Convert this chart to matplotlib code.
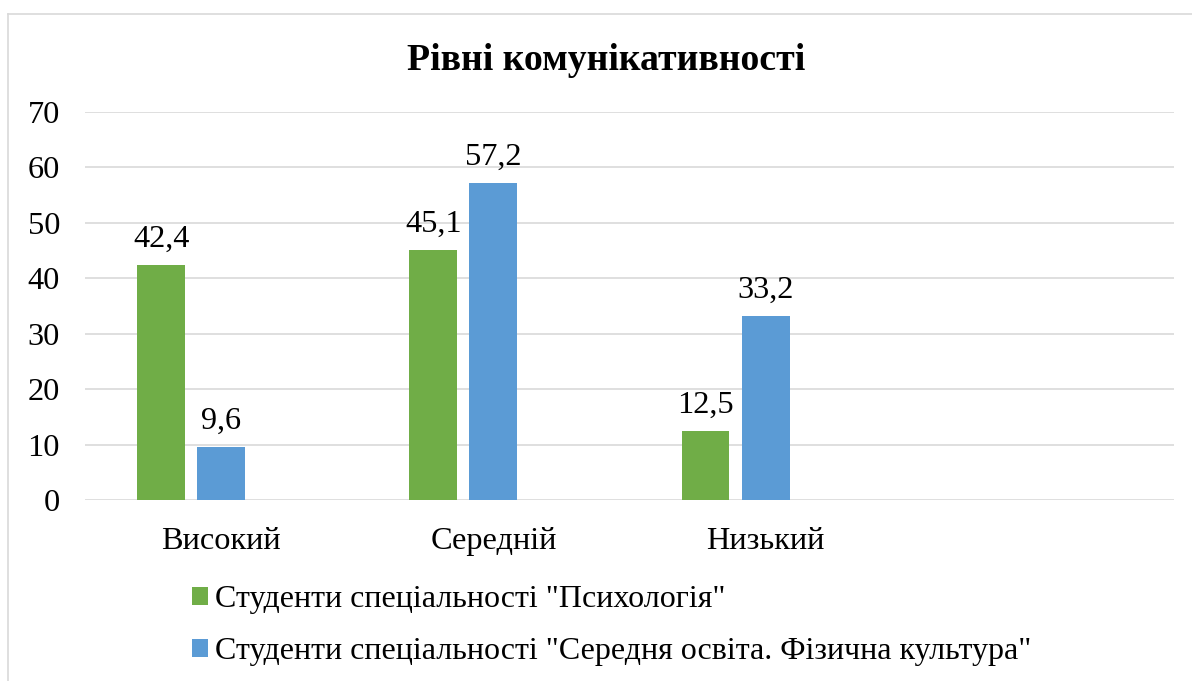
import matplotlib
matplotlib.use("Agg")
import matplotlib.pyplot as plt
from matplotlib.patches import Patch
from matplotlib.lines import Line2D
import numpy as np

plt.rcParams['font.family'] = ['Liberation Serif', 'DejaVu Serif']

title = "Рівні комунікативності"
categories = ["Високий", "Середній", "Низький", ""]
series_names = ['Студенти спеціальності "Психологія"',
                'Студенти спеціальності "Середня освіта. Фізична культура"']
psych = [42.4, 45.1, 12.5]
sport = [9.6, 57.2, 33.2]
colors = ["#70AD47", "#5B9BD5"]
yticks = [0, 10, 20, 30, 40, 50, 60, 70]

W, H = 1192, 681
fig = plt.figure(figsize=(W / 100, H / 100), dpi=100)
fig.patch.set_facecolor("white")

left, right, top, bottom = 85, 1174, 111.7, 500.3
ax = fig.add_axes([left / W, (H - bottom) / H, (right - left) / W, (bottom - top) / H])

x = np.arange(len(psych))
bw = 0.1754
off = 0.2206
fs = 23.3
b1 = ax.bar(x - off, psych, width=bw, color=colors[0], zorder=3)
b2 = ax.bar(x, sport, width=bw, color=colors[1], zorder=3)

for xs, vals in ((x - off, psych), (x, sport)):
    for xi, v in zip(xs, vals):
        ax.annotate(f"{v:.1f}".replace(".", ","), (xi, v), xytext=(0, 13),
                    textcoords="offset points", ha="center", va="baseline",
                    fontsize=fs, color="#000000")

ax.set_xlim(-0.5, len(categories) - 0.5)
ax.set_ylim(0, 70)
ax.set_yticks(yticks)
ax.set_yticklabels([str(t) for t in yticks])
ax.set_xticks(np.arange(len(categories)))
ax.set_xticklabels(categories)
ax.tick_params(axis="both", length=0, labelsize=fs, colors="#000000")
ax.tick_params(axis="y", pad=18)
ax.tick_params(axis="x", pad=19)
ax.grid(axis="y", color="#d9d9d9", linewidth=1.2, zorder=0)
for s in ax.spines.values():
    s.set_visible(False)

fig.text(606 / W, 1 - 70 / H, title, ha="center", va="baseline",
         fontsize=27.2, fontweight="bold", color="#000000")

# chart border (only top and left visible)
fig.add_artist(Line2D([8 / W, 8 / W], [0, 1 - 14 / H], transform=fig.transFigure,
                      color="#d9d9d9", linewidth=1.2))
fig.add_artist(Line2D([8 / W, 1], [1 - 14 / H, 1 - 14 / H], transform=fig.transFigure,
                      color="#d9d9d9", linewidth=1.2))

handles = [Patch(facecolor=colors[0]), Patch(facecolor=colors[1])]
lfs = 23.0
fs_px = lfs * 100 / 72
fig.legend(handles, series_names, loc="center left",
           bbox_to_anchor=(191.7 / W, 1 - 626 / H), frameon=False,
           fontsize=lfs, borderpad=0, borderaxespad=0,
           handlelength=16 / fs_px, handleheight=16 / fs_px,
           handletextpad=7 / fs_px, labelspacing=0.72)

fig.savefig("out.png", dpi=100, facecolor="white")
